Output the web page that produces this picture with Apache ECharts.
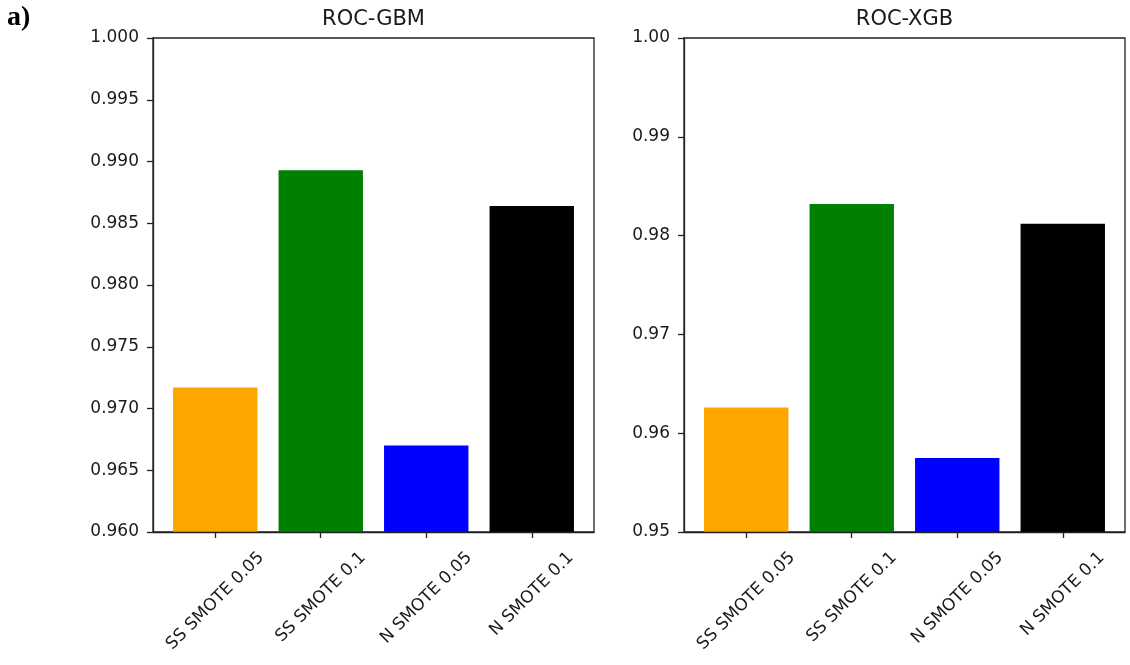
<!DOCTYPE html>
<html>
<head>
<meta charset="utf-8">
<script src="https://cdn.jsdelivr.net/npm/echarts@6/dist/echarts.min.js"></script>
<style>
  html, body { margin: 0; padding: 0; background: #fff; }
  #chart { width: 1130px; height: 665px; }
</style>
</head>
<body>
<div id="chart"></div>
<script>
// Resampling variants compared in both panels
const categories = ['SS SMOTE 0.05', 'SS SMOTE 0.1', 'N SMOTE 0.05', 'N SMOTE 0.1'];

// ROC AUC per variant
const gbmValues = [0.9717, 0.9893, 0.9670, 0.9864];
const xgbValues = [0.9626, 0.9832, 0.9575, 0.9812];

// y tick values of each panel
const gbmTicks = [0.960, 0.965, 0.970, 0.975, 0.980, 0.985, 0.990, 0.995, 1.000];
const xgbTicks = [0.95, 0.96, 0.97, 0.98, 0.99, 1.00];

const barColors = ['#FFA500', '#008000', '#0000FF', '#000000'];

const FONT = 'DejaVu Sans';
const TEXT = '#1a1a1a';
const SPINE = '#222';
const PLOT_W = 441, PLOT_H = 494, PLOT_TOP = 38;
const PANELS = [
  { left: 153, title: 'ROC-GBM', values: gbmValues, ticks: gbmTicks, digits: 3 },
  { left: 684, title: 'ROC-XGB', values: xgbValues, ticks: xgbTicks, digits: 2 }
];

// x range: bars of width 0.8 at 0..n-1 plus 5% margins
const n = categories.length;
const span = (n - 1) + 0.8;
const xMin = -0.4 - 0.05 * span;
const xMax = (n - 1) + 0.4 + 0.05 * span;
const barPx = PLOT_W / (xMax - xMin) * 0.8;
const tickPos = categories.map((c, i) => i);

// rotated labels: centre of the rotated box sits under the tick, top at a fixed gap
const ctx = document.createElement('canvas').getContext('2d');
ctx.font = '17px "' + FONT + '"';
const LABEL_MARGIN = 40;
const rich = {};
categories.forEach((c, i) => {
  const w = ctx.measureText(c).width;
  const drop = 16.5 + (w + 18.5) / (2 * Math.SQRT2);
  const p = Math.max(0, (drop - LABEL_MARGIN) * Math.SQRT2);
  rich['c' + i] = { padding: [p, p, 0, 0], fontSize: 17, fontFamily: FONT, color: TEXT };
});

const tickLine = { color: SPINE, width: 1.3 };

const grid = [], xAxis = [], yAxis = [], series = [], graphic = [];
PANELS.forEach((pn, k) => {
  grid.push({
    left: pn.left, top: PLOT_TOP, width: PLOT_W, height: PLOT_H,
    show: true, borderColor: SPINE, borderWidth: 1.3, backgroundColor: 'transparent'
  });
  xAxis.push({
    type: 'value', gridIndex: k, min: xMin, max: xMax, z: 10,
    splitLine: { show: false },
    axisLine: { show: true, onZero: false, lineStyle: tickLine },
    axisTick: { show: true, customValues: tickPos, length: 6, lineStyle: tickLine },
    axisLabel: {
      customValues: tickPos, rotate: 45, align: 'center', verticalAlign: 'middle',
      margin: LABEL_MARGIN,
      formatter: v => '{c' + Math.round(v) + '|' + categories[Math.round(v)] + '}',
      rich: rich
    }
  });
  const t = pn.ticks;
  yAxis.push({
    type: 'value', gridIndex: k, min: t[0], max: t[t.length - 1],
    interval: +(t[1] - t[0]).toFixed(6), z: 10,
    splitLine: { show: false },
    axisLine: { show: true, onZero: false, lineStyle: tickLine },
    axisTick: { show: true, length: 6, lineStyle: tickLine },
    axisLabel: {
      margin: 14, fontSize: 17, fontFamily: FONT, color: TEXT,
      formatter: v => v.toFixed(pn.digits)
    }
  });
  series.push({
    type: 'bar', xAxisIndex: k, yAxisIndex: k, barWidth: barPx, clip: true, silent: true,
    data: pn.values.map((v, i) => ({ value: [i, v], itemStyle: { color: barColors[i] } }))
  });
  graphic.push({
    type: 'text', x: pn.left + PLOT_W / 2, y: 19.5,
    style: { text: pn.title, fill: TEXT, fontSize: 21, fontFamily: FONT, align: 'center', verticalAlign: 'middle' }
  });
});

// panel tag in the top-left corner
graphic.push({
  type: 'text', x: 7, y: 17.5,
  style: { text: 'a)', fill: '#000', fontSize: 28, fontWeight: 'bold', fontFamily: 'Liberation Serif', align: 'left', verticalAlign: 'middle' }
});

const chart = echarts.init(document.getElementById('chart'), null, { renderer: 'canvas' });
chart.setOption({
  animation: false,
  backgroundColor: '#fff',
  grid, xAxis, yAxis, series, graphic
});
</script>
</body>
</html>
